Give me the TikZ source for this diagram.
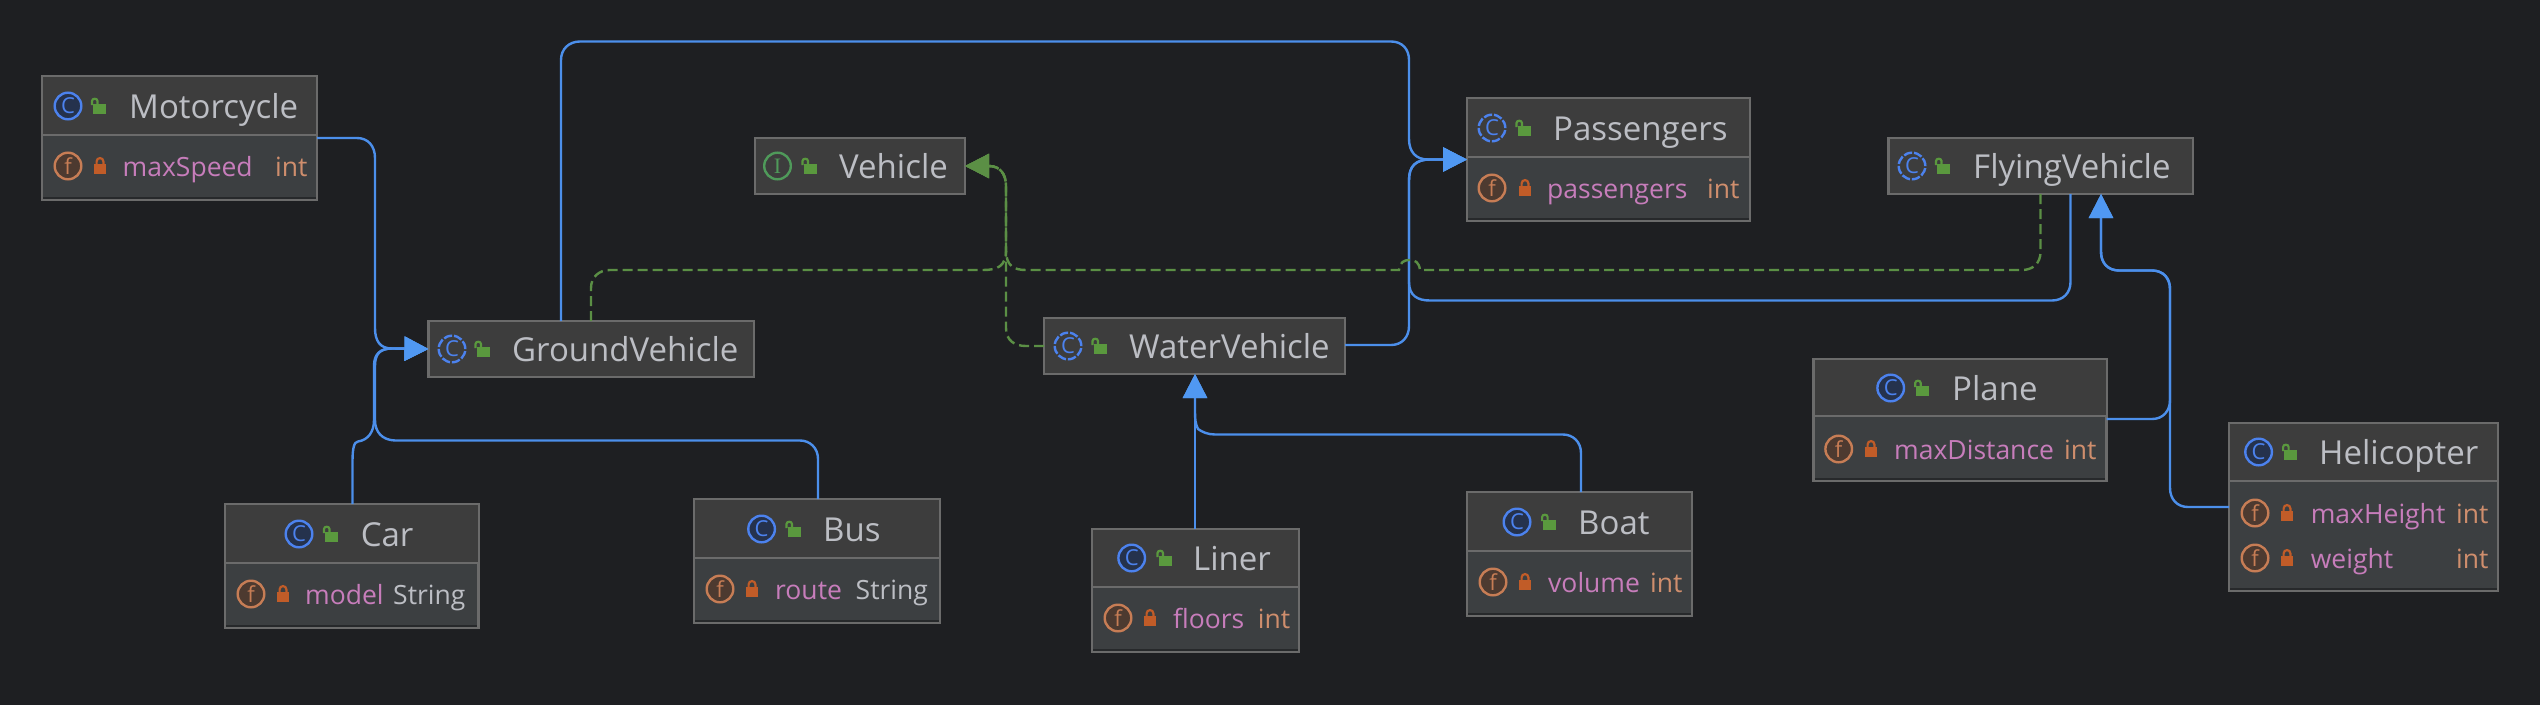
\documentclass[tikz,border=0pt]{standalone}
\usepackage{fontspec}
\setmainfont{Open Sans}
\newfontfamily\serifI{Liberation Serif}
\usetikzlibrary{arrows.meta,calc}
\definecolor{bgc}{HTML}{1E1F22}
\definecolor{headc}{HTML}{3D3D3D}
\definecolor{bodyc}{HTML}{3C3F41}
\definecolor{edgec}{HTML}{6B6B6B}
\definecolor{blueline}{HTML}{4C8FEB}
\definecolor{bluetip}{HTML}{5098F2}
\definecolor{greenline}{HTML}{5B8F45}
\definecolor{greenlock}{HTML}{5A993E}
\definecolor{orangelock}{HTML}{C15C28}
\definecolor{iconblue}{HTML}{4C82EE}
\definecolor{iconbluefill}{HTML}{25324D}
\definecolor{icongreen}{HTML}{4F9A5A}
\definecolor{iconorange}{HTML}{C77D55}
\definecolor{iconorangefill}{HTML}{4D3A30}
\definecolor{titlec}{HTML}{BCBEC4}
\definecolor{namec}{HTML}{C77DBB}
\definecolor{typec}{HTML}{CF8E6D}
\tikzset{
  umlnode/.style={draw=edgec,line width=2.2pt,fill=bodyc,inner sep=0pt,outer sep=0pt,anchor=north west},
  divline/.style={edgec,line width=2.5pt},
  titletext/.style={text=titlec,inner sep=0pt,anchor=base west,font=\fontsize{33}{36}\selectfont},
  fieldtext/.style={inner sep=0pt,anchor=base west,font=\fontsize{26.5}{30}\selectfont},
  icontext/.style={inner sep=0pt,anchor=center},
  inh/.style={blueline,line width=2.4pt,-{Triangle[length=24pt,width=24pt,color=bluetip]}},
  real/.style={greenline,line width=2.4pt,dash pattern=on 10pt off 5pt,-{Triangle[length=24pt,width=24pt,color=greenline]}},
}
\newcommand{\umlhead}[5]{%
  \node[umlnode,fill=headc,minimum width={(#4-#2)*1pt},minimum height={(#5-#3)*1pt}] (#1) at (#2,#3) {};
}
\newcommand{\umlfull}[6]{%
  \node[umlnode,minimum width={(#4-#2)*1pt},minimum height={(#5-#3)*1pt}] (#1) at (#2,#3) {};
  \fill[headc] (#2+1,#3+1) rectangle (#4-1,#6);
  \draw[divline] (#2,#6) -- (#4,#6);
  \draw[bgc!70!bodyc,line width=1.6pt] (#2+1.2,#5-2) -- (#4-1.2,#5-2);
}
\newcommand{\lockopen}[2]{%
  \fill[greenlock] (#1-5.5,#2-2) rectangle (#1+7.5,#2+8);
  \draw[greenlock,line width=2.2pt] (#1-6.5,#2-1) -- (#1-6.5,#2-5) .. controls (#1-6.5,#2-8) and (#1-1,#2-8) .. (#1-1,#2-5) -- (#1-1,#2-2);
}
\newcommand{\lockclosed}[2]{%
  \fill[orangelock] (#1-6,#2-2) rectangle (#1+6,#2+8);
  \draw[orangelock,line width=2.2pt] (#1-3.4,#2-1) -- (#1-3.4,#2-4.5) .. controls (#1-3.4,#2-9) and (#1+3.4,#2-9) .. (#1+3.4,#2-4.5) -- (#1+3.4,#2-1);
}
\newcommand{\iconclass}[3]{%
  \draw[iconblue,fill=iconbluefill,line width=2.4pt] (#2,#3) circle[radius=13.3pt];
  \node[icontext,text=iconblue,font=\fontsize{22}{24}\selectfont] (#1c) at (#2,#3) {C};
}
\newcommand{\iconabstract}[3]{%
  \draw[iconblue,line width=2.4pt,dash pattern=on 8.4pt off 2pt] (#2,#3) circle[radius=13.3pt];
  \node[icontext,text=iconblue,font=\fontsize{22}{24}\selectfont] (#1c) at (#2,#3) {C};
}
\newcommand{\iconiface}[3]{%
  \draw[icongreen,line width=2.4pt] (#2,#3) circle[radius=13.3pt];
  \node[icontext,text=icongreen,font=\serifI\fontsize{22}{24}\selectfont] (#1c) at (#2,#3) {I};
}
\newcommand{\iconfield}[3]{%
  \draw[iconorange,fill=iconorangefill,line width=2.4pt] (#2,#3) circle[radius=13.3pt];
  \node[icontext,text=iconorange,font=\fontsize{22}{24}\selectfont] (#1c) at (#2,#3) {f};
}
\newcommand{\umltitle}[7]{%
  \csname icon#2\endcsname{#1}{#3}{#5}%
  \lockopen{#4}{#5}%
  \node[titletext] (#1t) at (#6,#5+12) {#7};
}
\newcommand{\umlfield}[9]{%
  \iconfield{#1}{#2}{#4}%
  \lockclosed{#3}{#4}%
  \node[fieldtext,text=namec] (#1n) at (#5,#4+10) {#6};
  \node[fieldtext,text=#9] (#1y) at (#7,#4+10) {#8};
}
\begin{document}
\begin{tikzpicture}[x=1pt,y=-1pt]
\useasboundingbox (0,0) rectangle (2540,704);
\fill[bgc] (-3,-3) rectangle (2543,707);

\umlfull{mc}{42}{76}{317}{200}{135}
\umltitle{mc}{class}{68}{98.5}{106}{129}{Motorcycle}
\umlfield{mcf}{68}{100}{166}{122.5}{maxSpeed}{275}{int}{typec}

\umlhead{gv}{428.5}{321}{754}{377}
\umltitle{gv}{abstract}{452}{482}{349}{512}{GroundVehicle}

\umlhead{veh}{755}{138}{965}{194}
\umltitle{veh}{iface}{777.5}{809}{166}{839}{Vehicle}

\umlhead{wv}{1044}{318}{1345}{374}
\umltitle{wv}{abstract}{1068}{1099}{346}{1129}{WaterVehicle}

\umlfull{pas}{1467}{98}{1750}{221}{157}
\umltitle{pas}{abstract}{1492}{1523}{128}{1553}{Passengers}
\umlfield{pasf}{1492}{1525}{188}{1547}{passengers}{1707}{int}{typec}

\umlhead{fly}{1888.5}{138}{2193}{194}
\umltitle{fly}{abstract}{1912}{1942.5}{166}{1973}{FlyingVehicle}

\umlfull{pl}{1813.5}{359}{2106.5}{481}{416}
\umltitle{pl}{class}{1890.7}{1921.7}{388}{1952}{Plane}
\umlfield{plf}{1838.7}{1871}{449}{1894}{maxDistance}{2064}{int}{typec}

\umlfull{hc}{2229}{423}{2498}{591}{481}
\umltitle{hc}{class}{2258.6}{2289.6}{452}{2319}{Helicopter}
\umlfield{hcf}{2255}{2287}{513}{2310.6}{maxHeight}{2456}{int}{typec}
\umlfield{hcg}{2255}{2287}{558}{2310.6}{weight}{2456}{int}{typec}

\umlfull{car}{225}{504}{478.5}{628}{563}
\umltitle{car}{class}{299}{330.5}{534}{360.6}{Car}
\umlfield{carf}{251}{283}{594}{305}{model}{393}{String}{titlec}

\umlfull{bus}{694}{499}{940}{623}{558}
\umltitle{bus}{class}{761.6}{793}{529}{823}{Bus}
\umlfield{busf}{720}{752}{589}{775}{route}{855.5}{String}{titlec}

\umlfull{lin}{1092}{529}{1299}{652}{587}
\umltitle{lin}{class}{1131.7}{1164}{558}{1193}{Liner}
\umlfield{linf}{1118}{1150}{618}{1173}{floors}{1257.6}{int}{typec}

\umlfull{bt}{1467}{492}{1692}{616}{551}
\umltitle{bt}{class}{1517}{1548.6}{522}{1578}{Boat}
\umlfield{btf}{1493}{1525}{582}{1548}{volume}{1650}{int}{typec}

% inheritance, ground
\draw[inh] (mc.north east |- 0,138) -- (357,138) .. controls (368,138) and (375,146) .. (375,158) -- (375,328) .. controls (375,341) and (380,348.5) .. (392,348.5) -- (gv.west);
\draw[inh] ($(car.north west)+(127.5,0)$) -- (352.5,462) .. controls (352.5,448) and (354,442) .. (358,441.5) .. controls (368,440) and (374,432) .. (374,420) -- (374,366) .. controls (374,354) and (380,348.5) .. (392,348.5) -- (gv.west);
\draw[inh] ($(bus.north west)+(124,0)$) -- (818,459) .. controls (818,448) and (810,440.5) .. (800,440.5) -- (395,440.5) .. controls (382,440) and (375,432) .. (375,420) -- (375,366) .. controls (375,354) and (380,348.5) .. (392,348.5) -- (gv.west);

% inheritance, water
\draw[inh] ($(lin.north west)+(103,0)$) -- ($(wv.south west)+(151,0)$);
\draw[inh] ($(bt.north west)+(114,0)$) -- (1581,453) .. controls (1581,442) and (1573,434.5) .. (1563,434.5) -- (1215,434.5) .. controls (1208,434.5) and (1202,432) .. (1198,429) .. controls (1195.5,424) and (1195,420) .. (1195,410) -- ($(wv.south west)+(151,0)$);

% inheritance, flying
\draw[inh] (pl.north east |- 0,419) -- (2152,419) .. controls (2163,419) and (2170,411) .. (2170,400) -- (2170,289) .. controls (2170,278) and (2163,270.5) .. (2152,270.5) -- (2119,270.5) .. controls (2108,270.5) and (2101,263) .. (2101,252) -- ($(fly.south west)+(212.5,0)$);
\draw[inh] (hc.north west |- 0,507) -- (2188,507) .. controls (2177,507) and (2170,499) .. (2170,488) -- (2170,289) .. controls (2170,278) and (2163,270.5) .. (2152,270.5) -- (2119,270.5) .. controls (2108,270.5) and (2101,263) .. (2101,252) -- ($(fly.south west)+(212.5,0)$);

% to Passengers
\draw[inh] ($(gv.north west)+(132.5,0)$) -- (561,60) .. controls (561,49) and (569,41.5) .. (580,41.5) -- (1391,41.5) .. controls (1402,41.5) and (1409,49) .. (1409,60) -- (1409,139) .. controls (1409,152) and (1416,159.5) .. (1428,159.5) -- (pas.west);
\draw[inh] (wv.south east |- 0,345) -- (1391,345) .. controls (1402,345) and (1409,337) .. (1409,326) -- (1409,180) .. controls (1409,166) and (1416,159.5) .. (1430,159.5) -- (pas.west);
\draw[inh] ($(fly.south west)+(182,0)$) -- (2070.5,282) .. controls (2070.5,293) and (2063,300.5) .. (2052,300.5) -- (1430,300.5) .. controls (1418,300.5) and (1409,296) .. (1409,282) -- (1409,180) .. controls (1409,166) and (1416,159.5) .. (1430,159.5) -- (pas.west);

% realisation
\draw[real] ($(gv.north west)+(162.5,0)$) -- (591,288) .. controls (591,277) and (599,270) .. (610,270) -- (983,270) .. controls (998,270) and (1006,266) .. (1006,250) -- (1006,186) .. controls (1006,174) and (1000,166) .. (989,166) -- (veh.east);
\draw[real] (wv.west) -- (1026,346) .. controls (1014,346) and (1006,340) .. (1006,328) -- (1006,186) .. controls (1006,174) and (1000,166) .. (989,166) -- (veh.east);
\draw[real] ($(fly.south west)+(152,0)$) -- (2040.5,252) .. controls (2040.5,263) and (2033,270) .. (2022,270) -- (1420,270) .. controls (1419,262) and (1415,260) .. (1409.5,260) .. controls (1404,260) and (1400,262) .. (1399,270) -- (1026,270) .. controls (1014,270) and (1006,266) .. (1006,250) -- (1006,186) .. controls (1006,174) and (1000,166) .. (989,166) -- (veh.east);
\end{tikzpicture}
\end{document}
